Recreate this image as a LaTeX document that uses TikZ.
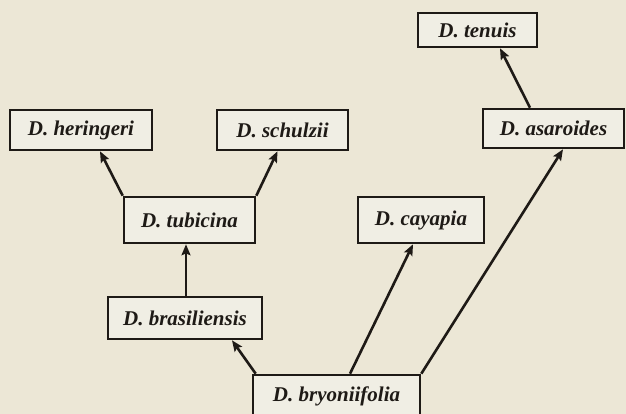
\documentclass[tikz,border=0pt]{standalone}
\usepackage{fontspec}
\setmainfont{Liberation Serif}
\usetikzlibrary{arrows.meta}
\definecolor{paper}{RGB}{236,231,214}
\definecolor{boxfill}{RGB}{240,238,228}
\definecolor{ink}{RGB}{30,26,22}
\begin{document}
\begin{tikzpicture}[x=1pt,y=-1pt,
  taxon/.style={draw=ink,line width=2.6pt,fill=boxfill,inner sep=0pt,
    font=\fontsize{21}{24}\selectfont\bfseries\itshape,text=ink},
  link/.style={draw=ink,line width=2.6pt,-{Stealth[length=11pt,width=9pt,inset=2pt]}}]
\fill[paper] (0,0) rectangle (626,414);
\useasboundingbox (0,0) rectangle (626,414);
\node[taxon,minimum width=119pt,minimum height=34pt] (ten) at (477.5,30) {D. tenuis};
\node[taxon,minimum width=141pt,minimum height=39pt] (asa) at (553.5,128.5) {D. asaroides};
\node[taxon,minimum width=142pt,minimum height=40pt] (her) at (81,130) {D. heringeri};
\node[taxon,minimum width=131pt,minimum height=40pt] (sch) at (282.5,130) {D. schulzii};
\node[taxon,minimum width=131pt,minimum height=46pt] (tub) at (189.5,220) {D. tubicina};
\node[taxon,minimum width=126pt,minimum height=46pt] (cay) at (421,220) {D. cayapia};
\node[taxon,minimum width=154pt,minimum height=42pt] (bra) at (185,318) {D. brasiliensis};
\node[taxon,minimum width=167pt,minimum height=42pt] (bry) at (336.5,396) {D. bryoniifolia};
\coordinate (tubin) at ([xshift=-3.5pt]tub.south);
\draw[link] (tub.north west) -- ([xshift=19pt]her.south);
\draw[link] (tub.north east) -- ([xshift=-5pt]sch.south);
\draw[link] (bra.north -| tubin) -- (tubin);
\draw[link] ([xshift=4pt]bry.north west) -- ([xshift=47pt]bra.south);
\draw[link] ([xshift=13.5pt]bry.north) -- ([xshift=-8pt]cay.south);
\draw[link] (bry.north east) -- ([xshift=9.5pt]asa.south);
\draw[link] ([xshift=-23.5pt]asa.north) -- ([xshift=22.5pt]ten.south);
\end{tikzpicture}
\end{document}
